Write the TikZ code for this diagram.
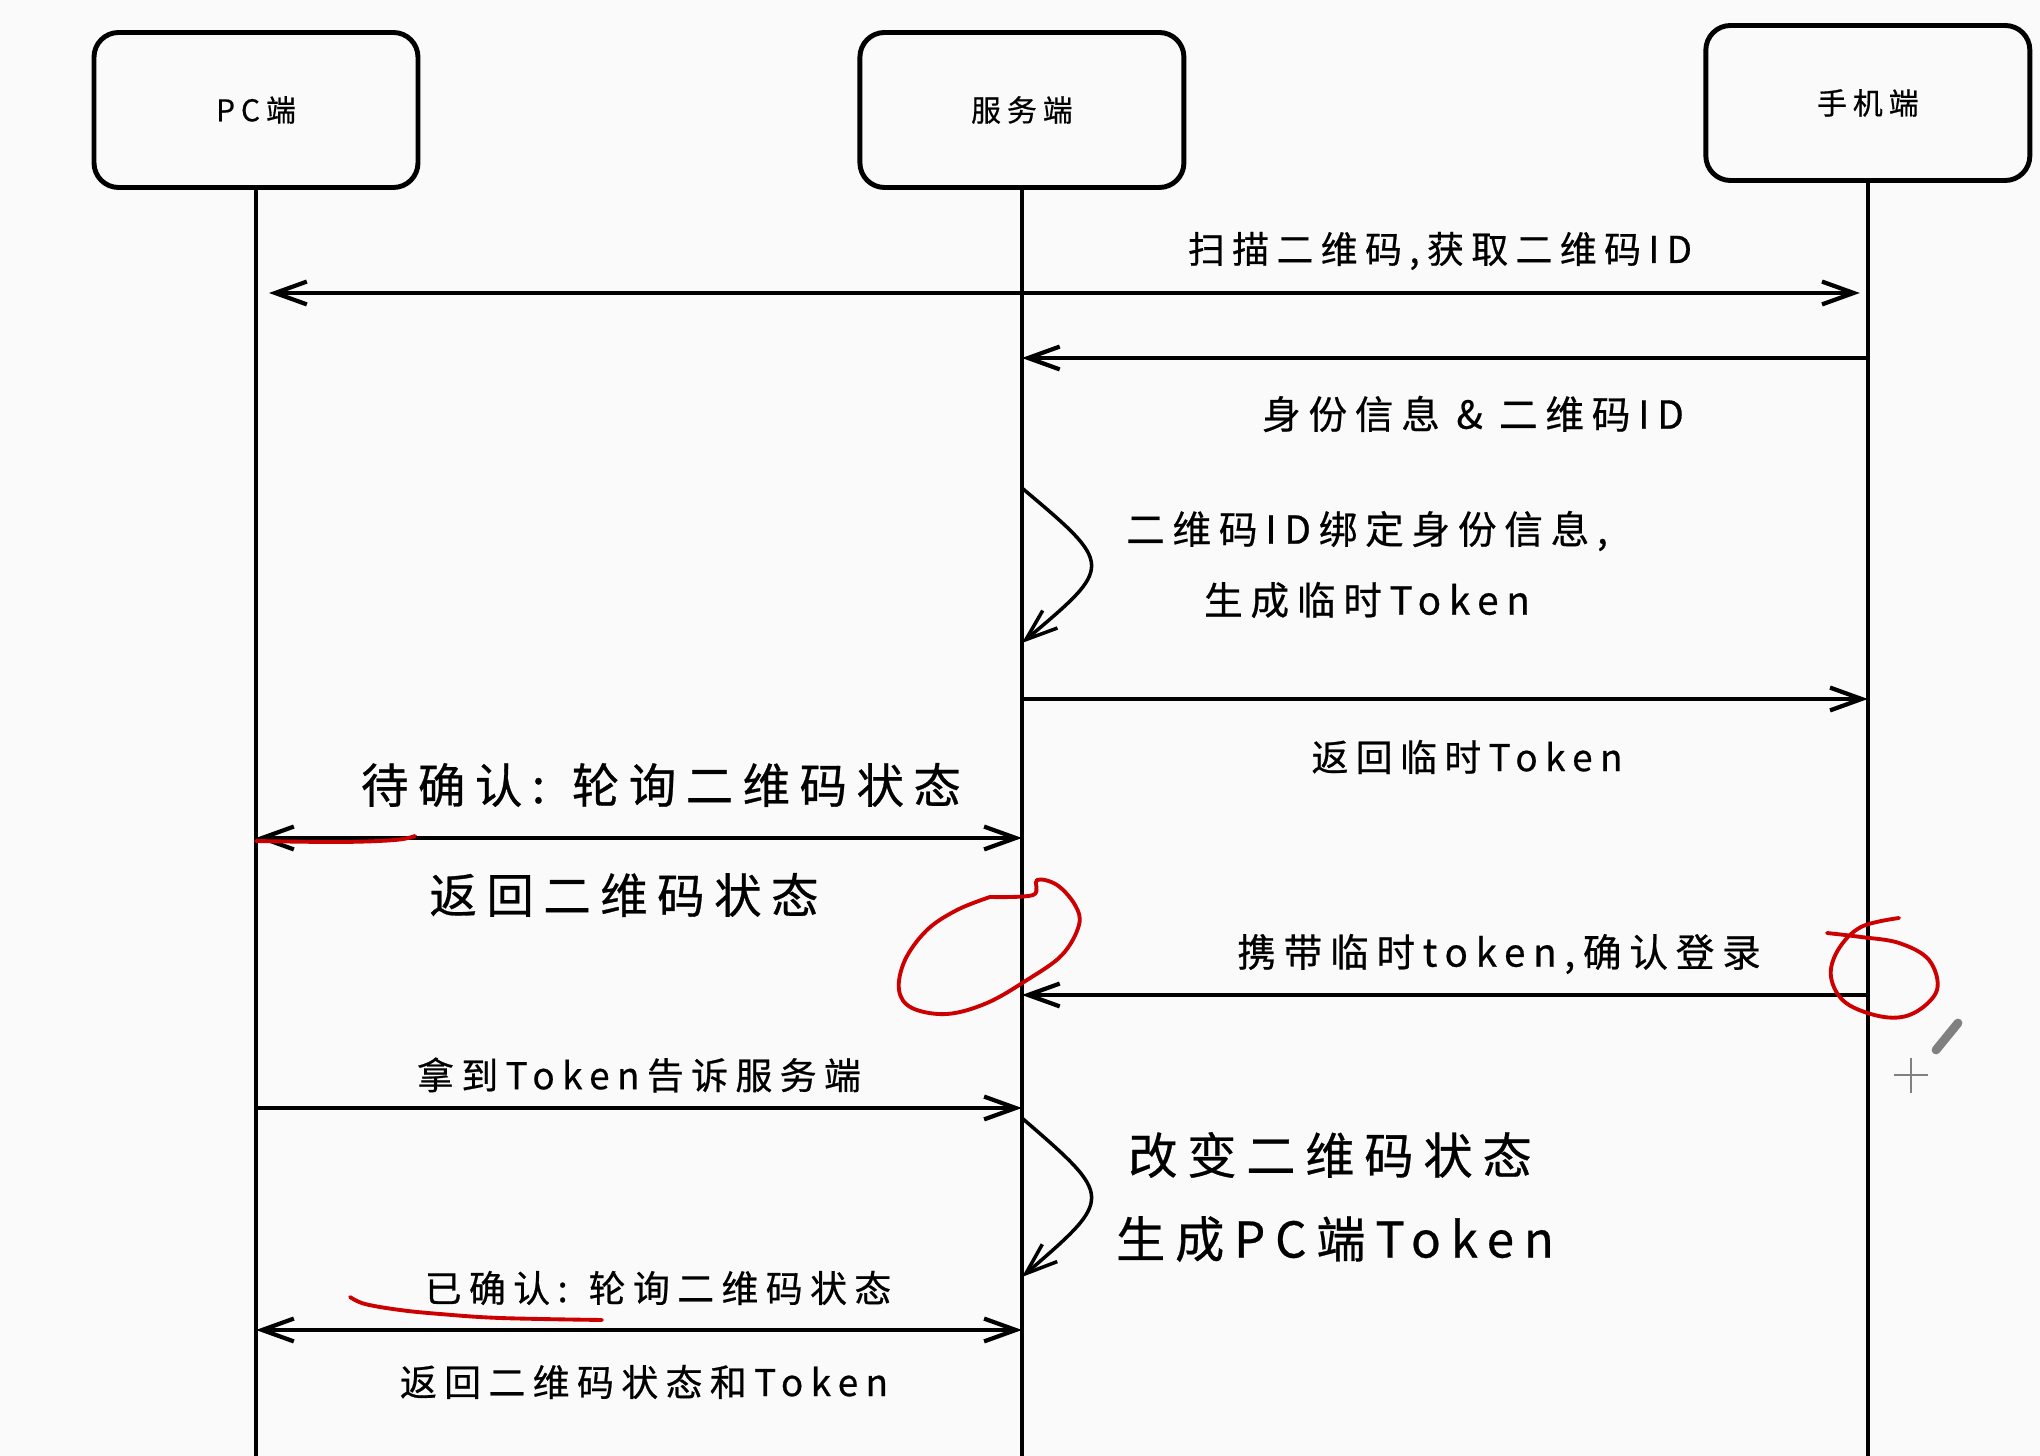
\documentclass[tikz,border=0pt]{standalone}
\usepackage{fontspec}
\setmainfont[LetterSpace=20, FakeBold=0.6]{Noto Sans CJK SC}
\usetikzlibrary{positioning, arrows.meta, calc}

\begin{document}
\begin{tikzpicture}[
    >={Straight Barb[length=9pt,width=6.5pt]},
    node distance=4.37cm,
    % Styles
    party/.style={
        draw, line width=1.4pt, rectangle, rounded corners=7pt,
        minimum width=3.24cm, minimum height=1.55cm,
        font=\fontsize{8.5}{10}\selectfont
    },
    lifeline/.style={line width=1.1pt},
    msg/.style={line width=1.2pt},
    selfmsg/.style={line width=1pt, ->},
    note/.style={font=\fontsize{10.5}{13}\selectfont, inner sep=0pt},
    widenote/.style={font=\fontsize{11}{13}\selectfont, inner sep=0pt},
    bignote/.style={font=\fontsize{14}{17}\selectfont, inner sep=0pt},
    redmark/.style={draw=red!80!black, line width=1.1pt, line cap=round, line join=round},
    cursor/.style={draw=gray, line width=0.7pt}
  ]

    % --- Canvas ---
    \fill[black!2] (0,0) rectangle (20.40,-14.56);
    \useasboundingbox (0,0) rectangle (20.40,-14.56);

    % --- Participants ---
    \node (PC) [party] at (2.56,-1.10) {PC端};
    \node (Server) [party, right=of PC] {服务端};
    \node (Phone) [party, right=5.17cm of Server, yshift=0.07cm] {手机端};

    % --- Lifelines ---
    \coordinate (bottom) at (0,-14.60);
    \draw[lifeline] (PC.south) -- (PC.south |- bottom);
    \draw[lifeline] (Server.south) -- (Server.south |- bottom);
    \draw[lifeline] (Phone.south) -- (Phone.south |- bottom);

    % --- Message rows ---
    \coordinate (r1) at (0,-2.93);
    \coordinate (r2) at (0,-3.58);
    \coordinate (r3) at (0,-6.99);
    \coordinate (r4) at (0,-8.38);
    \coordinate (r5) at (0,-9.95);
    \coordinate (r6) at (0,-11.08);
    \coordinate (r7) at (0,-13.30);

    % --- Messages ---
    \draw[msg, <->, shorten <=0.13cm, shorten >=0.08cm] (PC |- r1) -- (Phone |- r1);
    \draw[msg, ->] (Phone |- r2) -- (Server |- r2);
    \draw[msg, ->] (Server |- r3) -- (Phone |- r3);
    \draw[msg, <->] (PC |- r4) -- (Server |- r4);
    \draw[msg, ->] (Phone |- r5) -- (Server |- r5);
    \draw[msg, ->] (PC |- r6) -- (Server |- r6);
    \draw[msg, <->] (PC |- r7) -- (Server |- r7);

    % --- Server self calls ---
    \coordinate (bind_in) at (Server |- 0,-4.88);
    \coordinate (bind_out) at (Server |- 0,-6.43);
    \draw[selfmsg] (bind_in) .. controls ($(bind_in)!0.5!(bind_out)+(0.92,0)$) .. (bind_out);
    \coordinate (change_in) at (Server |- 0,-11.18);
    \coordinate (change_out) at (Server |- 0,-12.77);
    \draw[selfmsg] (change_in) .. controls ($(change_in)!0.5!(change_out)+(0.92,0)$) .. (change_out);

    % --- Labels ---
    \node[note] (scan) at (14.40,-2.51) {扫描二维码,获取二维码ID};
    \node[widenote] (ident) at (14.73,-4.14) {身份信息 \& 二维码ID};
    \node[widenote] (bind1) at (13.67,-5.31) {二维码ID绑定身份信息,};
    \node[widenote] (bind2) at (13.67,-6.00) {生成临时Token};
    \node[note] (tmptoken) at (14.67,-7.57) {返回临时Token};
    \node[bignote, font=\fontsize{13.5}{16}\selectfont] (wait) at (6.61,-7.85) {待确认: 轮询二维码状态};
    \node[bignote, font=\fontsize{13.5}{16}\selectfont] (state) at (6.24,-8.95) {返回二维码状态};
    \node[widenote] (confirm) at (14.99,-9.54) {携带临时token,确认登录};
    \node[note] (tell) at (6.39,-10.75) {拿到Token告诉服务端};
    \node[bignote] (change1) at (13.30,-11.55) {改变二维码状态};
    \node[bignote] (change2) at (13.35,-12.39) {生成PC端Token};
    \node[note] (done) at (6.58,-12.88) {已确认: 轮询二维码状态};
    \node[note] (final) at (6.44,-13.82) {返回二维码状态和Token};

    % --- Red pen marks ---
    \draw[redmark] plot[smooth, tension=0.6] coordinates {(2.56,-8.41) (3.40,-8.42) (3.95,-8.40) (4.15,-8.36)};
    \draw[redmark] plot[smooth, tension=0.6] coordinates {(9.90,-8.97) (10.33,-8.95) (10.37,-8.80) (10.57,-8.85) (10.75,-9.05) (10.79,-9.25) (10.62,-9.55) (10.27,-9.80) (9.87,-10.03) (9.47,-10.14) (9.12,-10.08) (8.99,-9.90) (9.05,-9.60) (9.27,-9.30) (9.57,-9.10) (9.90,-8.97)};
    \draw[redmark] plot[smooth, tension=0.6] coordinates {(18.99,-9.18) (18.61,-9.27) (18.38,-9.50) (18.31,-9.77) (18.46,-10.03) (18.84,-10.17) (19.14,-10.13) (19.37,-9.90) (19.29,-9.60) (18.99,-9.43) (18.61,-9.37) (18.27,-9.33)};
    \draw[redmark] plot[smooth, tension=0.6] coordinates {(3.50,-12.97) (3.65,-13.04) (4.00,-13.10) (4.40,-13.14) (5.00,-13.18) (6.02,-13.20)};

    % --- Cursor ---
    \draw[cursor] (18.94,-10.75) -- (19.28,-10.75);
    \draw[cursor] (19.11,-10.58) -- (19.11,-10.93);
    \draw[gray, line width=2.5pt, line cap=round] (19.58,-10.23) -- (19.36,-10.50);

\end{tikzpicture}
\end{document}
